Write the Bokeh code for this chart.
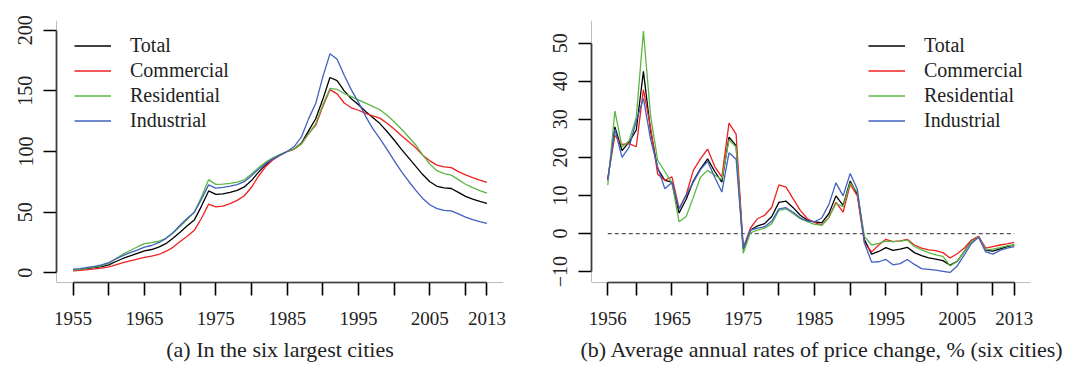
from bokeh.plotting import figure
from bokeh.layouts import row
from bokeh.models import (FixedTicker, Legend, LegendItem, Span, Title,
                          Range1d, CustomJSTickFormatter)
from bokeh.embed import file_html
from bokeh.resources import INLINE

# ---- (a) land price index, six largest cities (1985 = 100) ----
years_a = list(range(1955, 2014))
total_a = [2.3, 2.8, 3.5, 4.2, 5.1, 6.5, 9.3, 11.8, 13.9, 16.0,
           18.1, 19.2, 21.1, 24.0, 28.5, 33.5, 38.7, 43.6, 55.0, 67.5,
           64.6, 65.1, 66.3, 68.0, 70.8, 76.0, 83.0, 89.0, 93.5, 97.0,
           100.0, 102.0, 107.0, 117.0, 127.0, 143.0, 161.0, 158.5, 150.0, 143.5,
           138.5, 133.0, 128.0, 123.0, 116.5, 109.5, 102.0, 95.0, 88.0, 81.0,
           75.0, 71.3, 70.0, 69.5, 66.3, 63.0, 60.7, 58.8, 57.3]
commercial_a = [1.6, 2.0, 2.6, 3.2, 3.9, 4.9, 6.6, 8.4, 9.8, 11.2,
                12.8, 13.7, 15.1, 17.6, 21.0, 25.8, 30.2, 35.0, 45.0, 56.6,
                54.4, 55.0, 57.0, 59.7, 63.5, 70.5, 79.8, 87.6, 93.2, 97.0,
                100.0, 102.0, 106.3, 114.8, 121.5, 137.2, 151.0, 147.5, 140.0, 136.0,
                134.0, 131.5, 129.3, 127.5, 123.3, 118.5, 113.2, 108.3, 103.3, 97.0,
                92.3, 88.8, 87.3, 86.7, 83.4, 80.7, 78.4, 76.4, 74.5]
residential_a = [2.5, 2.9, 3.8, 4.7, 5.9, 7.7, 11.8, 15.4, 18.4, 21.3,
                 24.1, 24.9, 26.0, 28.5, 32.7, 38.1, 43.9, 50.2, 62.6, 76.8,
                 72.9, 73.1, 73.8, 74.8, 76.7, 81.4, 86.7, 91.2, 94.7, 97.7,
                 100.0, 102.1, 106.3, 114.5, 122.8, 138.5, 152.0, 151.3, 147.8, 145.3,
                 142.6, 139.9, 137.2, 134.4, 129.8, 124.5, 118.5, 112.2, 105.6, 97.2,
                 89.6, 84.2, 81.7, 80.5, 76.8, 73.0, 70.2, 67.8, 65.6]
industrial_a = [3.0, 3.5, 4.4, 5.3, 6.5, 8.4, 11.4, 14.2, 16.7, 18.7,
                21.2, 22.5, 24.8, 28.2, 33.0, 39.2, 45.0, 50.0, 60.6, 72.5,
                69.8, 70.4, 71.4, 72.7, 75.1, 80.0, 85.4, 90.2, 93.9, 97.0,
                100.0, 104.1, 112.0, 126.9, 139.5, 161.5, 180.5, 176.0, 162.8, 150.8,
                140.5, 129.0, 118.8, 110.7, 101.7, 92.4, 83.7, 75.7, 68.2, 61.3,
                56.1, 52.9, 51.5, 51.0, 48.5, 45.9, 43.8, 42.2, 40.8]

# ---- (b) average annual rate of price change, % ----
years_b = list(range(1956, 2014))
total_b = [14.0, 28.0, 21.8, 24.0, 27.2, 42.6, 27.0, 17.0, 14.0, 13.5,
           5.4, 9.0, 13.8, 17.0, 19.6, 16.3, 13.5, 25.3, 23.1, -4.1,
           0.9, 2.0, 2.6, 4.5, 8.2, 8.5, 6.8, 4.8, 3.5, 3.1,
           2.8, 5.2, 9.9, 7.4, 13.8, 10.3, -1.6, -5.4, -4.7, -3.7,
           -4.4, -4.1, -3.6, -5.0, -5.8, -6.4, -6.7, -7.1, -8.3, -7.3,
           -4.7, -2.0, -0.8, -4.4, -4.6, -4.0, -3.4, -3.0]
commercial_b = [14.5, 25.8, 23.4, 23.6, 22.8, 37.8, 27.9, 15.6, 14.0, 14.9,
                6.6, 10.2, 16.6, 19.6, 22.2, 17.6, 14.8, 29.0, 26.1, -3.8,
                1.4, 3.9, 4.8, 6.9, 12.8, 12.2, 9.1, 6.1, 3.9, 2.9,
                2.2, 4.2, 8.2, 5.6, 12.9, 9.9, -2.5, -4.8, -3.0, -1.5,
                -2.1, -1.9, -1.5, -3.0, -3.8, -4.3, -4.5, -5.0, -6.4, -5.3,
                -3.8, -1.7, -0.7, -3.8, -3.4, -3.0, -2.7, -2.3]
residential_b = [12.7, 32.2, 22.7, 24.4, 30.5, 53.2, 31.0, 19.2, 16.3, 13.3,
                 3.1, 4.5, 9.5, 14.8, 16.6, 15.3, 14.2, 24.6, 22.7, -5.2,
                 0.2, 0.9, 1.4, 2.6, 6.1, 6.5, 5.2, 3.9, 3.1, 2.4,
                 2.2, 4.2, 7.9, 7.1, 13.3, 10.8, -0.8, -3.0, -2.6, -2.0,
                 -2.1, -2.0, -1.7, -3.4, -4.3, -5.0, -5.6, -6.0, -8.5, -7.3,
                 -4.7, -2.1, -0.9, -4.3, -4.1, -3.7, -3.2, -3.0]
industrial_b = [14.0, 27.4, 20.0, 22.7, 29.6, 35.5, 24.8, 17.4, 11.8, 13.4,
                6.4, 10.1, 13.5, 16.8, 19.0, 14.8, 10.9, 21.2, 19.5, -3.8,
                0.9, 1.4, 1.8, 3.3, 6.5, 6.8, 5.6, 4.1, 3.3, 3.1,
                4.1, 7.6, 13.3, 9.9, 15.8, 11.6, -2.5, -7.5, -7.4, -6.8,
                -8.2, -7.9, -6.8, -8.1, -9.2, -9.4, -9.6, -9.9, -10.2, -8.5,
                -5.6, -2.6, -1.0, -4.8, -5.4, -4.4, -3.8, -3.4]

series_names = ["Total", "Commercial", "Residential", "Industrial"]
series_colors = ["#000000", "#f02020", "#5cb646", "#4060c0"]

xticks_a = [1955, 1960, 1965, 1970, 1975, 1980, 1985, 1990, 1995, 2000, 2005, 2010, 2013]
xlabels_a = [1955, 1965, 1975, 1985, 1995, 2005, 2013]
yticks_a = [0, 50, 100, 150, 200]

xticks_b = [1956, 1960, 1965, 1970, 1975, 1980, 1985, 1990, 1995, 2000, 2005, 2010, 2013]
xlabels_b = [1956, 1965, 1975, 1985, 1995, 2005, 2013]
yticks_b = [-10, 0, 10, 20, 30, 40, 50]

caption_a = "(a) In the six largest cities"
caption_b = "(b) Average annual rates of price change, % (six cities)"

FONT = "Liberation Serif"


def pad(lo, hi, frac=0.04):
    d = (hi - lo) * frac
    return lo - d, hi + d


def make_panel(width, border_left, border_right, years, series, xticks, xlabels,
               yticks, ylim, caption, legend_x, caption_align, caption_offset,
               zero_line=False):
    x0, x1 = pad(years[0], years[-1])
    y0, y1 = pad(*ylim)
    p = figure(width=width, height=370, output_backend="svg", toolbar_location=None,
               x_range=Range1d(x0, x1), y_range=Range1d(y0, y1),
               min_border_left=border_left, min_border_right=border_right,
               min_border_top=20, min_border_bottom=88)
    p.outline_line_color = None
    p.grid.visible = False
    p.background_fill_color = "white"
    p.border_fill_color = "white"

    # L-shaped frame on the left and bottom edges
    p.add_layout(Span(location=x0, dimension="height", line_color="#7a7a7a", line_width=1))
    p.add_layout(Span(location=y0, dimension="width", line_color="#7a7a7a", line_width=1))

    # x axis: ticks at every tick position, labels only where they fit
    xa = p.xaxis[0]
    xa.ticker = FixedTicker(ticks=xticks)
    xa.major_label_overrides = {t: (str(t) if t in xlabels else "") for t in xticks}
    xa.bounds = (xticks[0], xticks[-1])
    # y axis
    ya = p.yaxis[0]
    ya.ticker = FixedTicker(ticks=yticks)
    ya.bounds = (yticks[0], yticks[-1])
    ya.formatter = CustomJSTickFormatter(
        code="return tick < 0 ? '\u2212' + String(-tick) : String(tick);")
    ya.major_label_orientation = "vertical"

    for ax in (xa, ya):
        ax.axis_line_color = "black"
        ax.axis_line_width = 1.6
        ax.major_tick_line_color = "black"
        ax.major_tick_line_width = 1.6
        ax.major_tick_out = 13
        ax.major_tick_in = 0
        ax.minor_tick_line_color = None
        ax.major_label_text_font = FONT
        ax.major_label_text_color = "#222222"
    xa.major_label_text_font_size = "19px"
    xa.major_label_standoff = 16
    ya.major_label_text_font_size = "20px"
    ya.major_label_standoff = 11

    if zero_line:
        p.segment(x0=years[0], y0=0, x1=years[-1], y1=0,
                  line_color="#555555", line_width=1.2, line_dash="4 3")

    items = []
    for name, color, vals in zip(series_names, series_colors, series):
        r = p.line(years, vals, line_color=color, line_width=1.3)
        items.append(LegendItem(label=name, renderers=[r]))

    legend = Legend(items=items, location=(legend_x, 149),
                    label_text_font=FONT, label_text_font_size="20px",
                    label_text_color="#222222",
                    glyph_width=37, glyph_height=25, label_height=25,
                    label_standoff=19, spacing=0, padding=0, margin=0,
                    border_line_color=None, background_fill_alpha=0)
    p.add_layout(legend, "center")

    p.add_layout(Title(text=caption, align=caption_align, offset=caption_offset,
                       standoff=14, text_font=FONT, text_font_size="22px",
                       text_font_style="normal", text_color="#222222"), "below")
    return p


left = make_panel(530, 56, 27, years_a,
                  [total_a, commercial_a, residential_a, industrial_a],
                  xticks_a, xlabels_a, yticks_a, (0, 200), caption_a, 18,
                  "center", 0)
right = make_panel(539, 61, 39, years_b,
                   [total_b, commercial_b, residential_b, industrial_b],
                   xticks_b, xlabels_b, yticks_b, (-10.3, 53.4), caption_b, 277,
                   "left", -11, zero_line=True)

layout = row(left, right)
open("out.html", "w").write(file_html(layout, INLINE))
